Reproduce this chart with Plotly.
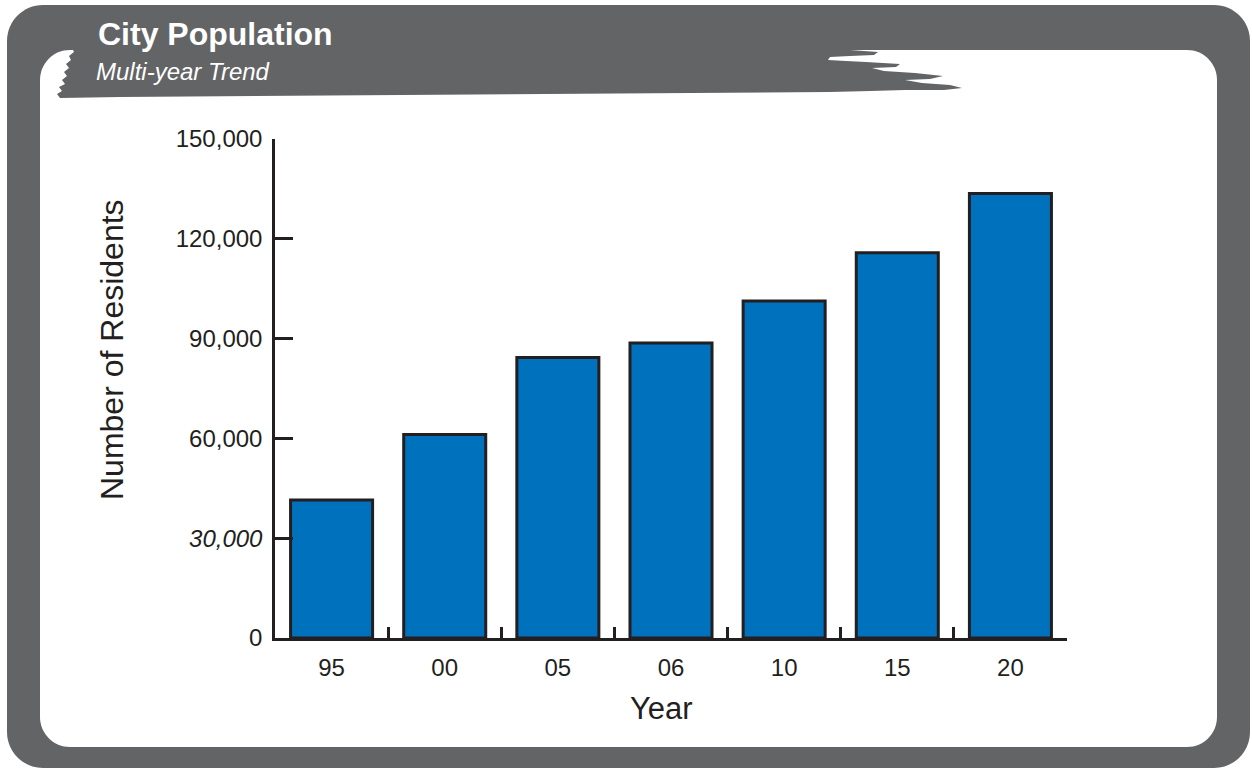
import plotly.graph_objects as go

# ---- data ----
years = ["95", "00", "05", "06", "10", "15", "20"]
residents = [41500, 61200, 84300, 88700, 101300, 115800, 133600]
y_tick_vals = [0, 30000, 60000, 90000, 120000, 150000]
y_tick_text = ["0", "<i>30,000</i>", "60,000", "90,000", "120,000", "150,000"]

# ---- canvas / plot-area geometry (pixels) ----
W, H = 1252, 769
L, R, T, B = 275, 1067, 139, 638
PW, PH = R - L, B - T

FRAME = "#636466"
INK = "#231F20"
BAR = "#0071BC"
FONT = "Liberation Sans, Arial, sans-serif"


def fx(x):
    return (x - L) / PW


def fy(y):
    return (B - y) / PH


def pt(x, y):
    return f"{fx(x):.5f},{fy(y):.5f}"


def rounded_rect(x0, y0, x1, y1, r):
    k = 0.5523 * r
    return (
        f"M {pt(x0 + r, y0)} L {pt(x1 - r, y0)} "
        f"C {pt(x1 - r + k, y0)} {pt(x1, y0 + r - k)} {pt(x1, y0 + r)} "
        f"L {pt(x1, y1 - r)} "
        f"C {pt(x1, y1 - r + k)} {pt(x1 - r + k, y1)} {pt(x1 - r, y1)} "
        f"L {pt(x0 + r, y1)} "
        f"C {pt(x0 + r - k, y1)} {pt(x0, y1 - r + k)} {pt(x0, y1 - r)} "
        f"L {pt(x0, y0 + r)} "
        f"C {pt(x0, y0 + r - k)} {pt(x0 + r - k, y0)} {pt(x0 + r, y0)} Z"
    )


def polygon(points):
    return "M " + " L ".join(pt(x, y) for x, y in points) + " Z"


# brush-stroke header band with ragged ends
header_pts = [
    (72, 45), (820, 45),
    (850, 50), (878, 52), (874, 55), (850, 56), (830, 57), (828, 60),
    (846, 61), (866, 62), (900, 64), (896, 67), (872, 68), (884, 71),
    (915, 73), (943, 76), (930, 79), (905, 80), (922, 83), (950, 85),
    (962, 88), (944, 90), (905, 90), (870, 91), (830, 92),
    (400, 95), (120, 97), (60, 98),
    (57, 94), (62, 91), (59, 87), (65, 84), (62, 80), (67, 76), (64, 72),
    (69, 68), (66, 64), (71, 60), (69, 56), (74, 52), (72, 48),
]

shapes = [
    dict(type="path", xref="paper", yref="paper", layer="below",
         path=rounded_rect(7, 5, 1250, 768, 36),
         fillcolor=FRAME, line=dict(width=0)),
    dict(type="path", xref="paper", yref="paper", layer="below",
         path=rounded_rect(40, 50, 1217, 747, 30),
         fillcolor="white", line=dict(width=0)),
    dict(type="path", xref="paper", yref="paper", layer="below",
         path=polygon(header_pts),
         fillcolor=FRAME, line=dict(width=0)),
]

fig = go.Figure(
    go.Bar(
        x=years,
        y=residents,
        marker=dict(color=BAR, line=dict(color=INK, width=3)),
        hoverinfo="x+y",
    )
)

fig.update_layout(
    width=W,
    height=H,
    autosize=False,
    margin=dict(l=L, r=W - R, t=T, b=H - B, pad=0),
    paper_bgcolor="white",
    plot_bgcolor="rgba(0,0,0,0)",
    showlegend=False,
    bargap=0.275,
    font=dict(family=FONT, color=INK),
    shapes=shapes,
    annotations=[
        dict(text="<b>City Population</b>", xref="paper", yref="paper",
             x=fx(96), y=fy(34), xanchor="left", yanchor="middle",
             showarrow=False, font=dict(size=32, color="white", family=FONT)),
        dict(text="<i>Multi-year Trend</i>", xref="paper", yref="paper",
             x=fx(94), y=fy(72), xanchor="left", yanchor="middle",
             showarrow=False, font=dict(size=24, color="white", family=FONT)),
        # axis titles
        dict(text="Number of Residents", xref="paper", yref="paper",
             x=fx(112), y=fy(350), xanchor="center", yanchor="middle",
             textangle=-90, showarrow=False,
             font=dict(size=32, color=INK, family=FONT)),
        dict(text="Year", xref="paper", yref="paper",
             x=fx(661), y=fy(708), xanchor="center", yanchor="middle",
             showarrow=False, font=dict(size=31, color=INK, family=FONT)),
    ],
)

fig.update_xaxes(
    type="category",
    range=[-0.5, len(years) - 0.5],
    showline=True, linecolor=INK, linewidth=2.5,
    ticks="inside", tickson="boundaries", ticklen=11, tickwidth=2.5, tickcolor=INK,
    tickfont=dict(size=24, color=INK),
    ticklabelstandoff=6,
    showgrid=False, zeroline=False,
    automargin=False,
)

fig.update_yaxes(
    range=[0, 150000],
    tickvals=y_tick_vals, ticktext=y_tick_text,
    showline=True, linecolor=INK, linewidth=2.5,
    ticks="inside", ticklen=18, tickwidth=2.5, tickcolor=INK,
    tickfont=dict(size=24, color=INK),
    ticklabelstandoff=5,
    showgrid=False, zeroline=False,
    automargin=False,
)

fig.write_html("out.html")
